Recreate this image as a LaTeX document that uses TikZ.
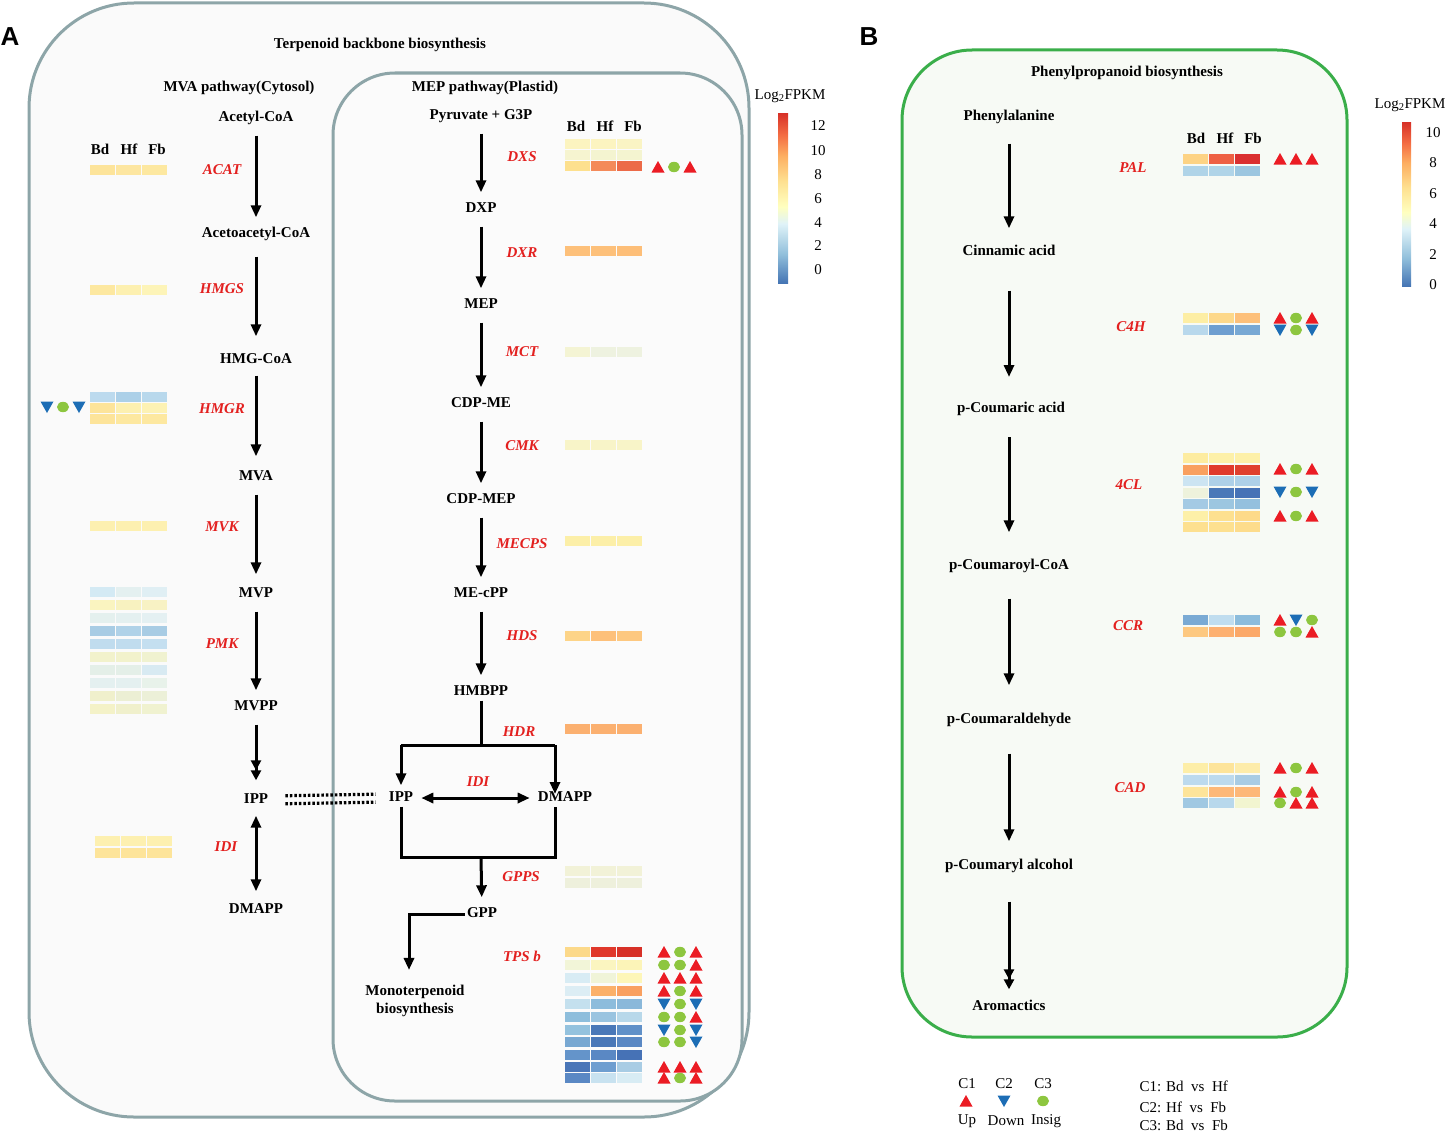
\documentclass[tikz,border=0pt]{standalone}
\usepackage{fontspec}
\setmainfont{Liberation Serif}
\newfontfamily\panelfont{Liberation Sans}
\usepackage{tikz}
\usetikzlibrary{arrows.meta}

\definecolor{enzred}{HTML}{E3201F}
\definecolor{symred}{HTML}{EB1C24}
\definecolor{symblue}{HTML}{1C6DB5}
\definecolor{symgreen}{HTML}{8DC63F}
\definecolor{boxgray}{HTML}{8DA5A8}
\definecolor{boxgreen}{HTML}{3AAE4A}
\definecolor{cbzero}{HTML}{4575B4}
\definecolor{cbtwo}{HTML}{91BFDB}
\definecolor{cbfour}{HTML}{E0F3F8}
\definecolor{cbfive}{HTML}{FFFFBF}
\definecolor{cbsix}{HTML}{FEE090}
\definecolor{cbeight}{HTML}{FDAE61}
\definecolor{cbten}{HTML}{F46D43}
\definecolor{cbtop}{HTML}{D73027}
\pgfdeclareverticalshading{fpkm}{100bp}{color(0bp)=(cbzero); color(25bp)=(cbzero); color(33.5bp)=(cbtwo); color(42.5bp)=(cbfour); color(47.5bp)=(cbfive); color(55bp)=(cbsix); color(62.5bp)=(cbeight); color(68.5bp)=(cbten); color(75bp)=(cbtop); color(100bp)=(cbtop)}

\newcommand{\hmrow}[5]{%
  \definecolor{hma}{HTML}{#3}\definecolor{hmb}{HTML}{#4}\definecolor{hmc}{HTML}{#5}%
  \fill[hma] (#1,#2) rectangle ++(25,10);
  \fill[hmb] (#1+26,#2) rectangle ++(25,10);
  \fill[hmc] (#1+52,#2) rectangle ++(25,10);}
\newcommand{\symup}[2]{\fill[symred] (#1-6.5,#2+5.5) -- (#1+6.5,#2+5.5) -- (#1,#2-6) -- cycle;}
\newcommand{\symdn}[2]{\fill[symblue] (#1-6.5,#2-5.5) -- (#1+6.5,#2-5.5) -- (#1,#2+6) -- cycle;}
\newcommand{\symci}[2]{\fill[symgreen] (#1,#2) ellipse (6 and 5.2);}
\newcommand{\symrow}[5]{#3{#1}{#2}#4{#1+16}{#2}#5{#1+32}{#2}}

\begin{document}
\begin{tikzpicture}[x=1pt,y=-1pt,
    met/.style={font=\bfseries\fontsize{15}{17}\selectfont, inner sep=2pt, text height=10pt, text depth=3pt},
    enz/.style={font=\bfseries\itshape\fontsize{15}{17}\selectfont, text=enzred},
    hdr/.style={font=\bfseries\fontsize{15}{17}\selectfont},
    lgd/.style={font=\fontsize{15}{17}\selectfont},
    flow/.style={line width=3pt, -{Triangle[length=12pt,width=10pt]}, shorten <=9pt, shorten >=8pt},
    flowdbl/.style={flow, -{Triangle[length=10pt,width=10pt]Triangle[length=10pt,width=10pt]}},
    flowlr/.style={line width=3pt, {Triangle[length=12pt,width=10pt]}-{Triangle[length=12pt,width=10pt]}},
    conn/.style={line width=3pt},
    dotline/.style={line width=3.2pt, dash pattern=on 2.5pt off 2pt, shorten <=15pt, shorten >=11pt}]
    \useasboundingbox (0,0) rectangle (1445,1132);

    \draw[boxgray, line width=3pt, fill=black!2, rounded corners=105pt] (29,3) rectangle (749,1117);
    \draw[boxgray, line width=3pt, fill=black!1.5, rounded corners=62pt] (333,73) rectangle (742,1101);
    \draw[boxgreen, line width=3pt, fill={rgb,255:red,247;green,250;blue,245}, rounded corners=70pt] (902,50) rectangle (1347,1037);

    \node[font=\panelfont\bfseries\fontsize{26}{28}\selectfont] (panA) at (10,37) {A};
    \node[font=\panelfont\bfseries\fontsize{26}{28}\selectfont] (panB) at (869,37) {B};
    \node[hdr] (terp) at (380,45) {Terpenoid backbone biosynthesis};
    \node[hdr] (mvapath) at (239,88) {MVA pathway(Cytosol)};
    \node[hdr] (meppath) at (485,88) {MEP pathway(Plastid)};
    \node[hdr] (phenyl) at (1127,73) {Phenylpropanoid biosynthesis};

    \node[met] (acetyl) at (256,118) {Acetyl-CoA};
    \node[met] (acetoac) at (256,234) {Acetoacetyl-CoA};
    \node[met] (hmgcoa) at (256,360) {HMG-CoA};
    \node[met] (mva) at (256,477) {MVA};
    \node[met] (mvp) at (256,594) {MVP};
    \node[met] (mvpp) at (256,707) {MVPP};
    \node[met] (ippA) at (256,800) {IPP};
    \node[met] (dmappA) at (256,910) {DMAPP};
    \draw[flow] (acetyl) -- (acetoac);
    \draw[flow, shorten <=14pt, shorten >=15pt] (acetoac) -- (hmgcoa);
    \draw[flow, shorten <=7pt, shorten >=12pt] (hmgcoa) -- (mva);
    \draw[flow, shorten >=11pt] (mva) -- (mvp);
    \draw[flow] (mvp) -- (mvpp);
    \draw[flowdbl, shorten >=11pt] (mvpp) -- (ippA);
    \draw[flowlr, shorten <=7pt, shorten >=10pt] (ippA) -- (dmappA);

    \node[enz] (acat) at (222,170) {ACAT};
    \node[enz] (hmgs) at (222,289) {HMGS};
    \node[enz] (hmgr) at (222,409) {HMGR};
    \node[enz] (mvk) at (222,527) {MVK};
    \node[enz] (pmk) at (222,644) {PMK};
    \node[enz] (idiA) at (226,847) {IDI};

    \node[hdr] (bdA) at (100,149) {Bd};
    \node[hdr] (hfA) at (129,149) {Hf};
    \node[hdr] (fbA) at (157,149) {Fb};
    \hmrow{90}{165}{FDE49A}{FDE6A0}{FDE8A0}
    \hmrow{90}{285}{FDE8A0}{FDF0B0}{FDF4B8}
    \hmrow{90}{392}{BCDAEE}{ACD0E8}{B8D8EC}
    \hmrow{90}{403}{FDE49A}{FDF0B0}{FDF2B4}
    \hmrow{90}{414}{FDE49A}{FDE8A0}{FDE8A0}
    \symrow{47}{407}{\symdn}{\symci}{\symdn}
    \hmrow{90}{521}{FDF0B0}{FDF0B0}{FDF0B0}
    \hmrow{90}{587}{D4EAF4}{E4F0F0}{E0EFF4}
    \hmrow{90}{600}{FAF4C0}{F8F2C0}{F8F2C4}
    \hmrow{90}{613}{E4F0EE}{E4F0F0}{E4F0F2}
    \hmrow{90}{626}{A8CCE4}{B0D2E8}{A8CCE4}
    \hmrow{90}{639}{C0DCEE}{C0DCEE}{C4DFF0}
    \hmrow{90}{652}{F2F2CC}{F2F2CC}{F0F2D0}
    \hmrow{90}{665}{E4EFE8}{E4EFE8}{D8EAF2}
    \hmrow{90}{678}{E4F0F0}{E4F0F0}{E8F2EA}
    \hmrow{90}{691}{F0F0CC}{ECEFD4}{ECF0D8}
    \hmrow{90}{704}{F4F2C8}{F0F0CC}{F0F2D0}
    \hmrow{95}{836}{FDF0B0}{FDF0B0}{FDF0B0}
    \hmrow{95}{848}{FDE49A}{FDE49A}{FDE49A}

    \node[met] (pyr) at (481,116) {Pyruvate + G3P};
    \node[met] (dxp) at (481,209) {DXP};
    \node[met] (mep) at (481,305) {MEP};
    \node[met] (cdpme) at (481,404) {CDP-ME};
    \node[met] (cdpmep) at (481,500) {CDP-MEP};
    \node[met] (mecpp) at (481,594) {ME-cPP};
    \node[met] (hmbpp) at (481,692) {HMBPP};
    \node[met] (ippB) at (401,798) {IPP};
    \node[met] (dmappB) at (565,798) {DMAPP};
    \node[met] (gpp) at (482,914) {GPP};
    \node[met, align=center, text height=, text depth=, font=\bfseries\fontsize{15}{18}\selectfont] (mono) at (415,1001) {Monoterpenoid\\biosynthesis};
    \draw[flow] (pyr) -- (dxp);
    \draw[flow] (dxp) -- (mep);
    \draw[flow] (mep) -- (cdpme);
    \draw[flow] (cdpme) -- (cdpmep);
    \draw[flow] (cdpmep) -- (mecpp);
    \draw[flow] (mecpp) -- (hmbpp);
    \coordinate (splitL) at (401,745);
    \coordinate (splitR) at (555,745);
    \coordinate (joinL) at (401,857);
    \coordinate (joinR) at (555,857);
    \coordinate (joinM) at (481,857);
    \draw[conn] (hmbpp.south) -- (hmbpp.south |- splitL);
    \draw[conn] (splitL) -- (splitR);
    \draw[flow, shorten <=0pt, shorten >=4pt] (splitL) -- (ippB);
    \draw[flow, shorten <=0pt, shorten >=4pt] (splitR) -- (splitR |- dmappB.center);
    \draw[flowlr, shorten <=6pt, shorten >=6pt] (ippB) -- (dmappB);
    \draw[conn] (ippB.south) -- (joinL) -- (joinR) -- ([xshift=-10pt]dmappB.south);
    \draw[flow, shorten <=0pt] (joinM) -- (gpp);
    \draw[conn, -{Triangle[length=12pt,width=10pt]}, shorten >=13pt] (gpp.west) -| ([xshift=-6pt]mono.north);
    \draw[dotline] ([yshift=4pt]ippA.east) -- ([yshift=4pt]ippB.west);
    \draw[dotline] ([yshift=-4pt]ippA.east) -- ([yshift=-4pt]ippB.west);

    \node[enz] (dxs) at (522,157) {DXS};
    \node[enz] (dxr) at (522,253) {DXR};
    \node[enz] (mct) at (522,352) {MCT};
    \node[enz] (cmk) at (522,446) {CMK};
    \node[enz] (mecps) at (522,544) {MECPS};
    \node[enz] (hds) at (522,636) {HDS};
    \node[enz] (hdr) at (519,732) {HDR};
    \node[enz] (idiB) at (478,782) {IDI};
    \node[enz] (gpps) at (521,877) {GPPS};
    \node[enz] (tpsb) at (522,956) {TPS b};

    \node[hdr] (bdB) at (576,126) {Bd};
    \node[hdr] (hfB) at (605,126) {Hf};
    \node[hdr] (fbB) at (633,126) {Fb};
    \hmrow{565}{139}{FCF4C0}{FCF4C0}{FAF4C4}
    \hmrow{565}{150}{F6F4D0}{F4F4D0}{F4F4D0}
    \hmrow{565}{161}{FDE08E}{F48A5A}{EC6A48}
    \symrow{658}{167}{\symup}{\symci}{\symup}
    \hmrow{565}{246}{FDC07A}{FDC07A}{FDBE78}
    \hmrow{565}{347}{F4F4D4}{EEF2E0}{EEF2E0}
    \hmrow{565}{440}{F8F4C8}{F8F4C8}{F8F4C8}
    \hmrow{565}{536}{FCEFA8}{FCEFA8}{FCEFA8}
    \hmrow{565}{631}{FDD488}{FDC07A}{FDC880}
    \hmrow{565}{724}{FBB070}{FBB070}{FBB070}
    \hmrow{565}{866}{F2F2D8}{F2F2D8}{F2F2D8}
    \hmrow{565}{878}{EEF0DC}{EEF0DC}{EEF0DC}
    \hmrow{565}{947}{FCD98A}{E0382B}{D73027}
    \hmrow{565}{960}{F2F5D8}{FBF5C0}{FCF4B8}
    \hmrow{565}{973}{D8ECF4}{F0F4D8}{FDF6B8}
    \hmrow{565}{986}{DCEDF4}{FBB069}{F9A060}
    \hmrow{565}{999}{C4E0EE}{8DBCDC}{8AB8DA}
    \hmrow{565}{1012}{8EBEDC}{9AC4E0}{B8D8EA}
    \hmrow{565}{1025}{94C2DE}{4A78B8}{6090C8}
    \hmrow{565}{1037}{78A8D2}{4A78B8}{5A88C4}
    \hmrow{565}{1050}{6494CA}{5A88C4}{4672B6}
    \hmrow{565}{1062}{4A76B8}{6E9ED0}{A8CCE4}
    \hmrow{565}{1073}{5A88C4}{C8E2F0}{D8ECF4}
    \symrow{664}{952}{\symup}{\symci}{\symup}
    \symrow{664}{965}{\symci}{\symci}{\symup}
    \symrow{664}{978}{\symup}{\symup}{\symup}
    \symrow{664}{991}{\symup}{\symci}{\symup}
    \symrow{664}{1004}{\symdn}{\symci}{\symdn}
    \symrow{664}{1017}{\symci}{\symci}{\symup}
    \symrow{664}{1030}{\symdn}{\symci}{\symdn}
    \symrow{664}{1042}{\symci}{\symci}{\symdn}
    \symrow{664}{1067}{\symup}{\symup}{\symup}
    \symrow{664}{1078}{\symup}{\symci}{\symup}

    \node[lgd] (cbtitleA) at (790,96) {Log\textsubscript{2}FPKM};
    \shade[shading=fpkm] (778,113) rectangle (788,283);
    \foreach \v/\yy in {12/126,10/151,8/175,6/199,4/223,2/246,0/270}
        \node[lgd] at (818,\yy) {\v};

    \node[met] (phe) at (1009,117) {Phenylalanine};
    \node[met] (cin) at (1009,252) {Cinnamic acid};
    \node[met] (pcou) at (1011,409) {p-Coumaric acid};
    \node[met] (pcoa) at (1009,566) {p-Coumaroyl-CoA};
    \node[met] (pald) at (1009,720) {p-Coumaraldehyde};
    \node[met] (palc) at (1009,866) {p-Coumaryl alcohol};
    \node[met] (arom) at (1009,1007) {Aromactics};
    \draw[flow, shorten <=18pt, shorten >=15pt] (phe) -- (cin);
    \draw[flow, shorten <=30pt, shorten >=24pt] (cin) -- (1009,401);
    \draw[flow, shorten <=28pt, shorten >=25pt] (1009,409) -- (pcoa);
    \draw[flow, shorten <=24pt, shorten >=26pt] (pcoa) -- (pald);
    \draw[flow, shorten <=25pt, shorten >=16pt] (pald) -- (palc);
    \draw[flowdbl, shorten <=27pt, shorten >=9pt] (palc) -- (arom);

    \node[enz] (pal) at (1133,168) {PAL};
    \node[enz] (cfourh) at (1131,327) {C4H};
    \node[enz] (fourcl) at (1129,485) {4CL};
    \node[enz] (ccr) at (1128,626) {CCR};
    \node[enz] (cad) at (1130,788) {CAD};

    \node[hdr] (bdC) at (1196,138) {Bd};
    \node[hdr] (hfC) at (1225,138) {Hf};
    \node[hdr] (fbC) at (1253,138) {Fb};
    \hmrow{1183}{154}{FDD384}{EE6044}{DA3030}
    \hmrow{1183}{166}{B0D4E8}{B0D4E8}{9CC6E0}
    \symrow{1280}{159}{\symup}{\symup}{\symup}
    \hmrow{1183}{313}{FDEEA4}{FDD88A}{FDC07A}
    \hmrow{1183}{325}{B8D8EC}{6E9ED0}{78A8D4}
    \symrow{1280}{318}{\symup}{\symci}{\symup}
    \symrow{1280}{330}{\symdn}{\symci}{\symdn}
    \hmrow{1183}{453}{FDECA0}{FDF0A8}{FDF0A8}
    \hmrow{1183}{464.5}{F9A060}{E03A2C}{E0402E}
    \hmrow{1183}{476}{CCE4F2}{AED0E8}{AED0E8}
    \hmrow{1183}{487.5}{EEF2DC}{4A78B8}{4672B6}
    \hmrow{1183}{499}{A4CAE4}{9CC6E0}{94C0DE}
    \hmrow{1183}{510.5}{FDF0A8}{FDE090}{FDDA8A}
    \hmrow{1183}{522}{FDE090}{FDE090}{FDDC8C}
    \symrow{1280}{469}{\symup}{\symci}{\symup}
    \symrow{1280}{492}{\symdn}{\symci}{\symdn}
    \symrow{1280}{516}{\symup}{\symci}{\symup}
    \hmrow{1183}{615}{7AAAD4}{C0DDEF}{8CBCDC}
    \hmrow{1183}{627}{FDC880}{FDB070}{FBA868}
    \symrow{1280}{620}{\symup}{\symdn}{\symci}
    \symrow{1280}{632}{\symci}{\symci}{\symup}
    \hmrow{1183}{763}{FDEEA8}{FDE49A}{FDECAA}
    \hmrow{1183}{775}{BCDAEE}{BCDAEE}{A8CCE4}
    \hmrow{1183}{787}{FDE49A}{FDB878}{FDB878}
    \hmrow{1183}{798}{A0C8E2}{B8D8EC}{F2F5D0}
    \symrow{1280}{768}{\symup}{\symci}{\symup}
    \symrow{1280}{792}{\symup}{\symci}{\symup}
    \symrow{1280}{803}{\symci}{\symup}{\symup}

    \node[lgd] (cbtitleB) at (1410,105) {Log\textsubscript{2}FPKM};
    \shade[shading=fpkm] (1402,122) rectangle (1411,286);
    \foreach \v/\yy in {10/133,8/163,6/194,4/224,2/255,0/285}
        \node[lgd] at (1433,\yy) {\v};

    \node[lgd] (cone) at (967,1084) {C1};
    \node[lgd] (ctwo) at (1004,1084) {C2};
    \node[lgd] (cthree) at (1043,1084) {C3};
    \symup{966}{1101}
    \symdn{1004}{1101}
    \symci{1043}{1101}
    \node[lgd] (lup) at (967,1121) {Up};
    \node[lgd] (ldown) at (1006,1121) {Down};
    \node[lgd] (linsig) at (1046,1121) {Insig};
    \node[lgd, anchor=west] (cmpone) at (1136,1086) {C1: Bd\ \ vs\ \ Hf};
    \node[lgd, anchor=west] (cmptwo) at (1136,1107) {C2: Hf\ \ vs\ \ Fb};
    \node[lgd, anchor=west] (cmpthree) at (1136,1125) {C3: Bd\ \ vs\ \ Fb};
\end{tikzpicture}
\end{document}
